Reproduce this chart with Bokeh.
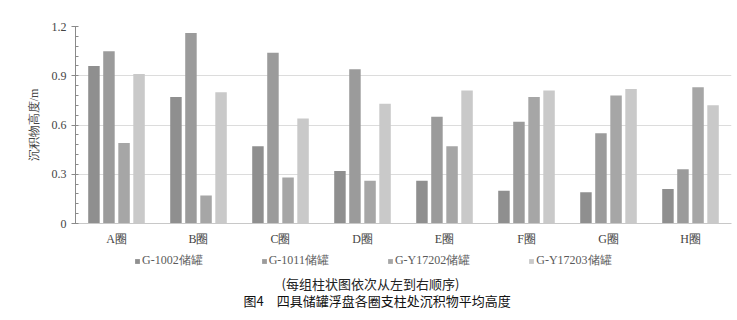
from bokeh.plotting import figure
from bokeh.layouts import column
from bokeh.models import (ColumnDataSource, FactorRange, Range1d, SingleIntervalTicker,
                          PrintfTickFormatter, Legend, LegendItem, Label)
from bokeh.transform import dodge
from bokeh.embed import file_html
from bokeh.resources import INLINE

categories = ["A圈", "B圈", "C圈", "D圈", "E圈", "F圈", "G圈", "H圈"]
series_names = ["G-1002储罐", "G-1011储罐", "G-Y17202储罐", "G-Y17203储罐"]
g1002 = [0.96, 0.77, 0.47, 0.32, 0.26, 0.20, 0.19, 0.21]
g1011 = [1.05, 1.16, 1.04, 0.94, 0.65, 0.62, 0.55, 0.33]
gy17202 = [0.49, 0.17, 0.28, 0.26, 0.47, 0.77, 0.78, 0.83]
gy17203 = [0.91, 0.80, 0.64, 0.73, 0.81, 0.81, 0.82, 0.72]
y_label = "沉积物高度/m"
caption = "(每组柱状图依次从左到右顺序)"
title_text = "图4\u3000四具储罐浮盘各圈支柱处沉积物平均高度"

colors = ["#8f8f8f", "#9b9b9b", "#a6a6a6", "#c9c9c9"]
offsets = [-0.275, -0.092, 0.092, 0.275]
serif = "Liberation Serif"
cjk = "Noto Sans CJK SC"

source = ColumnDataSource(dict(cat=categories, s0=g1002, s1=g1011, s2=gy17202, s3=gy17203))
cols = ["s0", "s1", "s2", "s3"]

# ---- main chart ----
p = figure(width=737, height=250, x_range=FactorRange(*categories, range_padding=0),
           y_range=Range1d(0, 1.2), output_backend="svg", toolbar_location=None,
           min_border_left=75, min_border_right=6, min_border_top=26, min_border_bottom=27)
p.outline_line_color = None
p.background_fill_color = "white"
p.border_fill_color = "white"

for i, col in enumerate(cols):
    p.vbar(x=dodge("cat", offsets[i], range=p.x_range), top=col, width=0.14,
           source=source, fill_color=colors[i], line_color=None)

p.yaxis.ticker = SingleIntervalTicker(interval=0.3, num_minor_ticks=5)
p.yaxis.formatter = PrintfTickFormatter(format="%.1f")
p.yaxis.major_label_overrides = {0: "0"}
p.yaxis.axis_label = y_label
p.yaxis.axis_label_text_font = serif
p.yaxis.axis_label_text_font_style = "normal"
p.yaxis.axis_label_text_font_size = "12px"
p.yaxis.axis_label_text_color = "#444444"
p.yaxis.axis_label_standoff = 8
p.yaxis.major_label_text_font = serif
p.yaxis.major_label_text_font_size = "12px"
p.yaxis.major_label_text_color = "#444444"
p.yaxis.major_label_standoff = 5
p.yaxis.axis_line_color = "#8a8a8a"
p.yaxis.major_tick_line_color = "#8a8a8a"
p.yaxis.minor_tick_line_color = "#8a8a8a"
p.yaxis.major_tick_out = 4
p.yaxis.major_tick_in = 2
p.yaxis.minor_tick_out = 0
p.yaxis.minor_tick_in = 3

p.xaxis.axis_line_color = "#c8c8c8"
p.xaxis.major_tick_line_color = None
p.xaxis.major_tick_out = 0
p.xaxis.major_tick_in = 0
p.xaxis.major_label_text_font = serif
p.xaxis.major_label_text_font_size = "12px"
p.xaxis.major_label_text_color = "#444444"
p.xaxis.major_label_standoff = 8

p.xgrid.grid_line_color = None
p.ygrid.grid_line_color = "#dcdcdc"
p.ygrid.grid_line_width = 1

# ---- legend and captions strip (frame aligned with the chart's frame: x 75..731) ----
q = figure(width=737, height=70, x_range=FactorRange(*categories, range_padding=0),
           y_range=Range1d(0, 1), x_axis_type=None, y_axis_type=None,
           output_backend="svg", toolbar_location=None,
           min_border_left=75, min_border_right=6, min_border_top=0, min_border_bottom=0)
q.grid.visible = False
q.outline_line_color = None
q.background_fill_color = "white"
q.border_fill_color = "white"

legend_renderers = []
for i, col in enumerate(cols):
    r = q.vbar(x="cat", top=col, width=0.14, source=source,
               fill_color=colors[i], line_color=None, visible=False)
    legend_renderers.append(r)

legend = Legend(items=[LegendItem(label=series_names[i], renderers=[legend_renderers[i]]) for i in range(4)],
                orientation="horizontal", location=(59, 51), spacing=58,
                glyph_width=6, glyph_height=6, label_height=14, label_standoff=2,
                padding=0, margin=0, inactive_fill_alpha=0,
                border_line_color=None, background_fill_alpha=0,
                label_text_font=serif, label_text_font_size="12px", label_text_color="#5a5a5a")
q.add_layout(legend, "center")

q.add_layout(Label(x=206, y=37, x_units="screen", y_units="screen", text=caption,
                   text_align="left", text_baseline="middle",
                   text_font=cjk, text_font_size="13px", text_color="#222222"))
q.add_layout(Label(x=168, y=20, x_units="screen", y_units="screen", text=title_text,
                   text_align="left", text_baseline="middle",
                   text_font=cjk, text_font_size="13px", text_color="#111111"))

layout = column(p, q, spacing=0)
open("out.html", "w").write(file_html(layout, INLINE))
